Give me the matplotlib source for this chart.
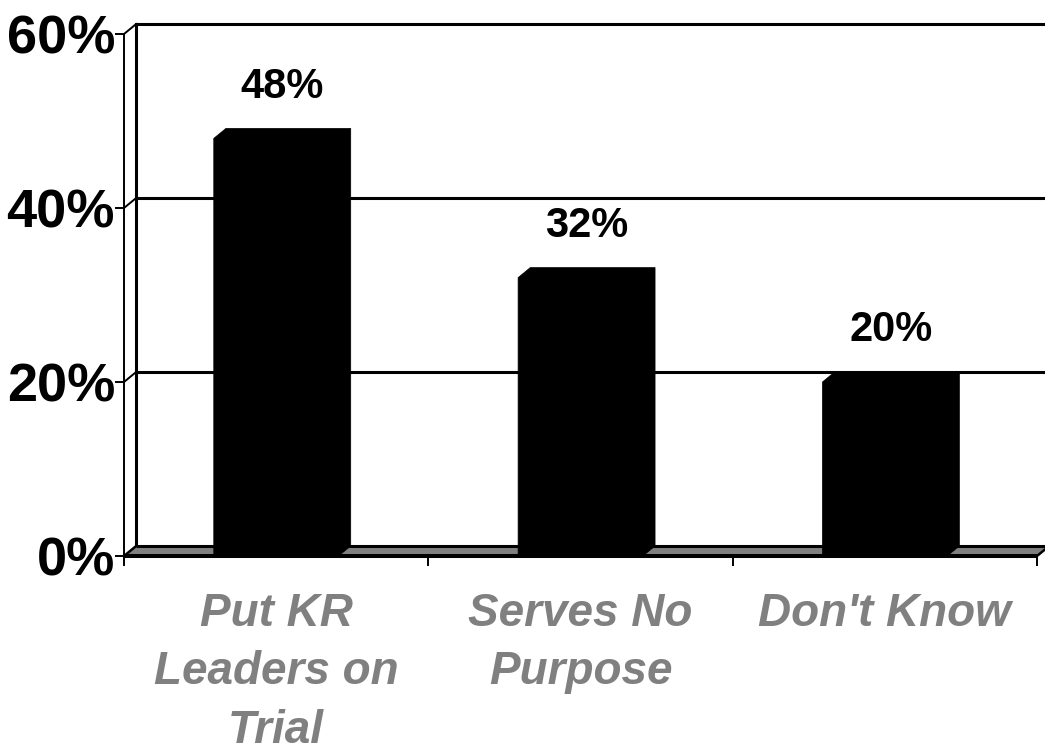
import matplotlib.pyplot as plt
from matplotlib.patches import Polygon

categories = ['Put KR\nLeaders on\nTrial', 'Serves No\nPurpose', "Don't Know"]
values = [48, 32, 20]
y_ticks = [0, 20, 40, 60]
y_tick_labels = ['0%', '20%', '40%', '60%']

plt.rcParams['font.family'] = ['Liberation Sans', 'DejaVu Sans']

fig = plt.figure(figsize=(10.45, 7.51), dpi=100)
ax = fig.add_axes([124 / 1045, 195 / 751, 913 / 1045, 522 / 751])
ax.set_xlim(-0.5, len(values) - 0.5)
ax.set_ylim(0, 60)

# depth of the fake 3d box, in data units (about 12px right, 10px up)
dx = 0.04
dy = 1.15
x0, x1 = -0.5, len(values) - 0.5

# back wall
ax.add_patch(Polygon([(x0 + dx, dy), (x0 + dx, 60 + dy), (x1 + dx, 60 + dy), (x1 + dx, dy)],
                     closed=True, facecolor='white', edgecolor='none', clip_on=False, zorder=0))
for v in y_ticks[1:]:
    ax.plot([x0 + dx, x1 + dx], [v + dy, v + dy], color='black', lw=2.2, clip_on=False, zorder=1,
            solid_capstyle='butt')
    ax.plot([x0, x0 + dx], [v, v + dy], color='black', lw=1.4, clip_on=False, zorder=1)
ax.plot([x0 + dx, x0 + dx], [dy, 60 + dy], color='black', lw=2.2, clip_on=False, zorder=1)

# floor
ax.add_patch(Polygon([(x0, 0), (x0 + dx, dy), (x1 + dx, dy), (x1, 0)], closed=True,
                     facecolor='#808080', edgecolor='none', clip_on=False, zorder=1))
ax.plot([x0 + dx, x1 + dx], [dy, dy], color='black', lw=2.2, clip_on=False, zorder=2,
        solid_capstyle='butt')
ax.plot([x0, x1], [0, 0], color='black', lw=2.9, clip_on=False, zorder=2, solid_capstyle='butt')
ax.plot([x0, x0 + dx], [0, dy], color='black', lw=1.8, clip_on=False, zorder=2)
ax.plot([x1, x1 + dx], [0, dy], color='black', lw=1.8, clip_on=False, zorder=2)

# bars, drawn as front + top + side in one black shape
w = 0.41
for i, v in enumerate(values):
    l, r = i - w / 2, i + w / 2
    pts = [(l, 0), (l, v), (l + dx, v + dy), (r + dx, v + dy), (r + dx, dy), (r, 0)]
    ax.add_patch(Polygon(pts, closed=True, facecolor='black', edgecolor='black', lw=0.5,
                         clip_on=False, zorder=3))
    ax.text(i + dx / 2, v + dy + 4.8, f'{v}%', ha='center', va='center', fontsize=30,
            fontweight='bold', color='black', zorder=4)

# front axis
for s in ['top', 'right', 'bottom']:
    ax.spines[s].set_visible(False)
ax.spines['left'].set_linewidth(1.4)
ax.spines['left'].set_zorder(2)
ax.patch.set_visible(False)

ax.set_yticks(y_ticks)
ax.set_yticklabels(y_tick_labels, fontsize=39, fontweight='bold')
ax.tick_params(axis='y', direction='out', length=6.5, width=1.4, pad=0)
for t in ax.get_yticklabels():
    t.set_verticalalignment('center_baseline')

ax.set_xticks([x0 + 0.0001] + [i + 0.5 for i in range(len(values))])
ax.set_xticklabels([''] * (len(values) + 1))
ax.tick_params(axis='x', which='major', direction='out', length=7, width=1.4)
ax.set_xticks(range(len(values)), minor=True)
ax.set_xticklabels(categories, minor=True, fontsize=33, fontweight='bold', fontstyle='italic',
                   color='#808080', linespacing=1.42, va='top')
ax.tick_params(axis='x', which='minor', length=0, pad=26)

fig.savefig('out.png', dpi=100)
